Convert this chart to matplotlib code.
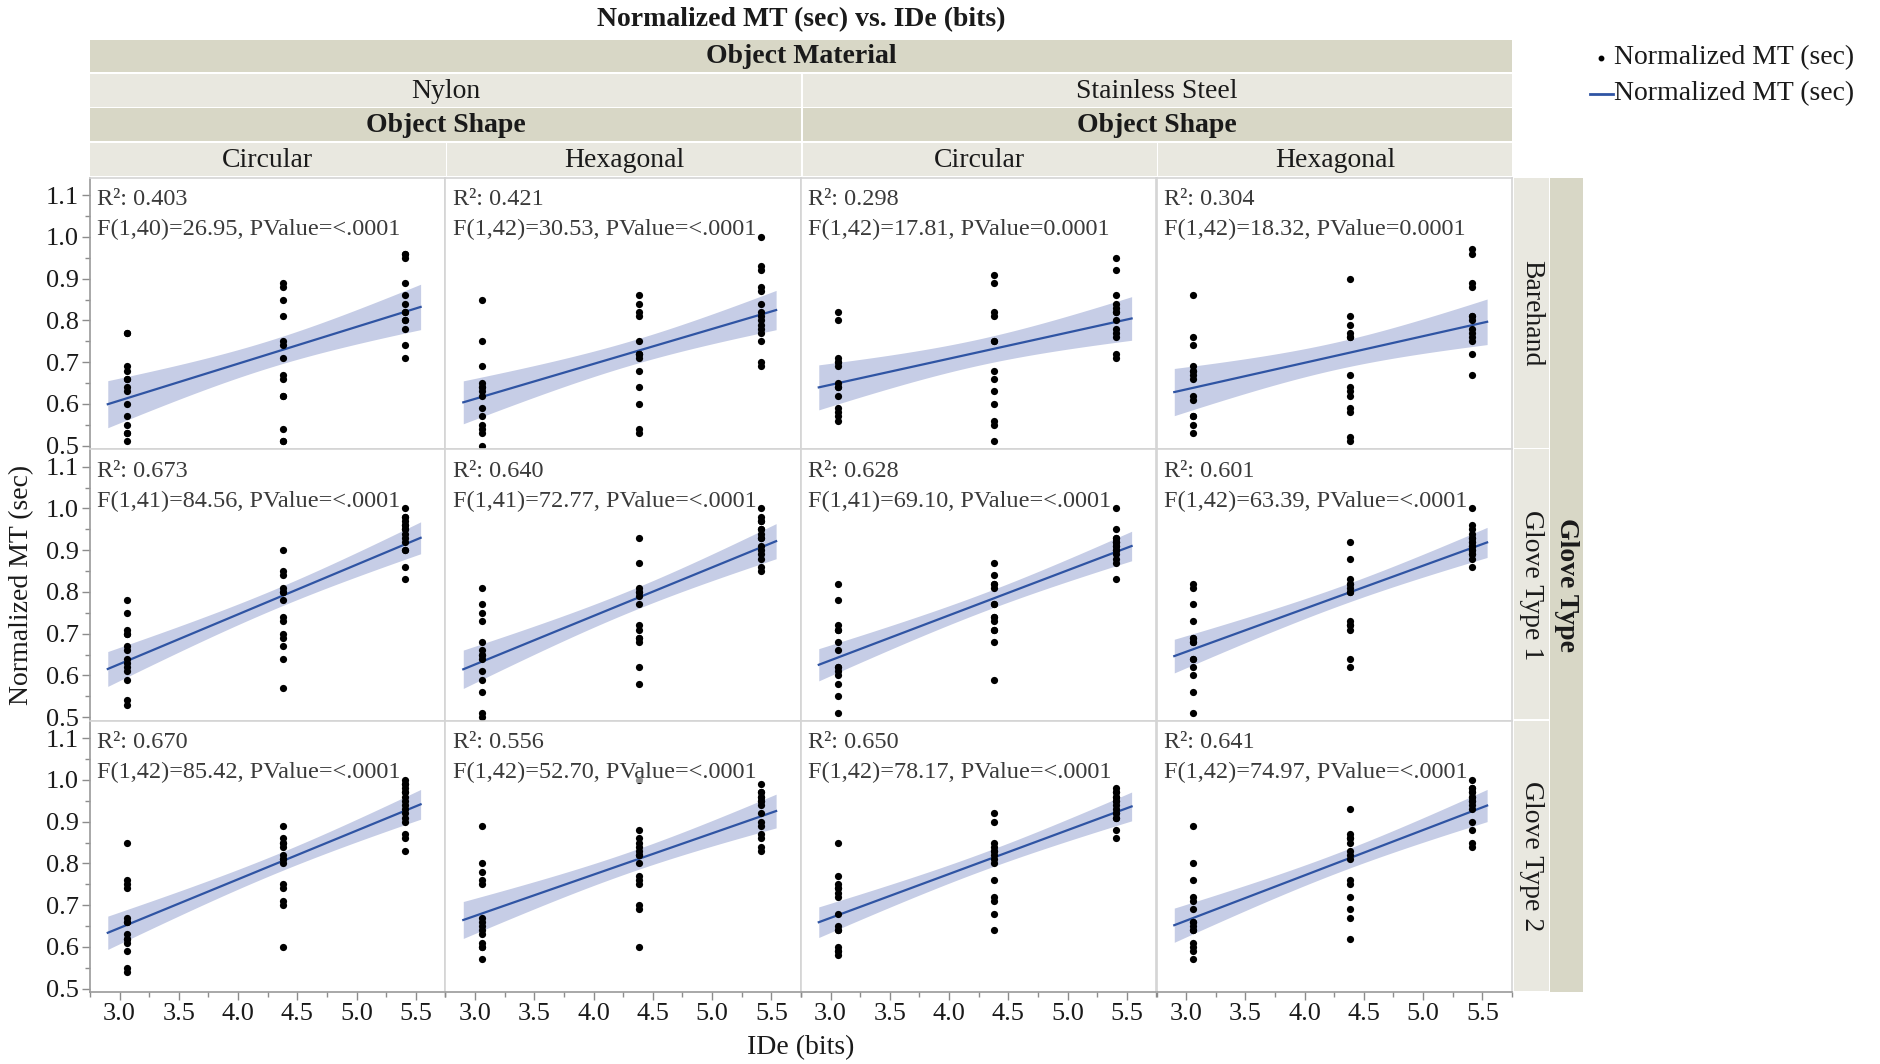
import numpy as np
import matplotlib
matplotlib.use('Agg')
import matplotlib.pyplot as plt
from matplotlib.patches import Rectangle
from matplotlib.ticker import MultipleLocator

plt.rcParams['font.family'] = ['Liberation Serif', 'DejaVu Serif']

W, H = 1881, 1064

# ---------------- data ----------------
ide_levels = [3.06, 4.38, 5.41]

glove_types = ['Barehand', 'Glove Type 1', 'Glove Type 2']
materials = ['Nylon', 'Stainless Steel']
shapes = ['Circular', 'Hexagonal']

# Normalized MT (sec) per IDe level, [low, mid, high]
bare_nylon_circ = [
    [0.77, 0.77, 0.69, 0.68, 0.66, 0.66, 0.64, 0.63, 0.60, 0.57, 0.55, 0.53, 0.53, 0.51],
    [0.89, 0.88, 0.85, 0.81, 0.75, 0.74, 0.71, 0.67, 0.66, 0.62, 0.62, 0.54, 0.51, 0.51],
    [0.96, 0.96, 0.95, 0.89, 0.86, 0.84, 0.82, 0.80, 0.78, 0.74, 0.71, 0.82, 0.80]]
bare_nylon_hex = [
    [0.85, 0.75, 0.69, 0.65, 0.64, 0.64, 0.63, 0.62, 0.59, 0.57, 0.55, 0.54, 0.53, 0.50],
    [0.86, 0.84, 0.82, 0.81, 0.75, 0.72, 0.72, 0.71, 0.68, 0.64, 0.60, 0.54, 0.53, 0.72],
    [1.00, 0.93, 0.92, 0.88, 0.87, 0.84, 0.82, 0.81, 0.79, 0.78, 0.77, 0.75, 0.70, 0.69, 0.80]]
bare_steel_circ = [
    [0.82, 0.80, 0.71, 0.70, 0.70, 0.69, 0.65, 0.64, 0.64, 0.62, 0.59, 0.58, 0.57, 0.56],
    [0.91, 0.89, 0.82, 0.81, 0.75, 0.75, 0.68, 0.66, 0.63, 0.60, 0.56, 0.55, 0.51],
    [0.95, 0.92, 0.86, 0.84, 0.83, 0.82, 0.80, 0.77, 0.76, 0.72, 0.71, 0.82, 0.78]]
bare_steel_hex = [
    [0.86, 0.76, 0.74, 0.69, 0.68, 0.67, 0.66, 0.62, 0.61, 0.57, 0.57, 0.55, 0.53, 0.68],
    [0.90, 0.81, 0.79, 0.77, 0.76, 0.67, 0.64, 0.63, 0.62, 0.59, 0.58, 0.52, 0.51, 0.76],
    [0.97, 0.96, 0.89, 0.88, 0.81, 0.78, 0.77, 0.76, 0.75, 0.72, 0.67, 0.81, 0.80]]
g1_nylon_circ = [
    [0.78, 0.75, 0.71, 0.70, 0.70, 0.67, 0.66, 0.64, 0.63, 0.62, 0.61, 0.59, 0.54, 0.53],
    [0.90, 0.85, 0.84, 0.81, 0.80, 0.78, 0.74, 0.73, 0.70, 0.69, 0.67, 0.64, 0.57, 0.80],
    [1.00, 0.98, 0.97, 0.96, 0.95, 0.93, 0.90, 0.86, 0.83, 0.94, 0.92, 0.96, 0.90, 0.98, 0.95]]
g1_nylon_hex = [
    [0.81, 0.77, 0.75, 0.73, 0.68, 0.66, 0.65, 0.64, 0.61, 0.59, 0.56, 0.51, 0.50, 0.65],
    [0.93, 0.87, 0.81, 0.80, 0.79, 0.77, 0.72, 0.71, 0.69, 0.68, 0.62, 0.58, 0.80, 0.69],
    [1.00, 0.98, 0.97, 0.95, 0.94, 0.93, 0.91, 0.89, 0.86, 0.85, 0.97, 0.95, 0.93, 0.90, 0.88]]
g1_steel_circ = [
    [0.82, 0.78, 0.72, 0.71, 0.71, 0.68, 0.66, 0.62, 0.61, 0.60, 0.58, 0.55, 0.51, 0.62],
    [0.87, 0.84, 0.82, 0.81, 0.77, 0.74, 0.73, 0.71, 0.71, 0.68, 0.59, 0.77, 0.82, 0.74],
    [1.00, 0.95, 0.93, 0.92, 0.91, 0.90, 0.87, 0.83, 0.92, 0.91, 0.90, 0.93, 0.89, 0.88, 0.92]]
g1_steel_hex = [
    [0.82, 0.81, 0.77, 0.73, 0.69, 0.68, 0.68, 0.64, 0.62, 0.60, 0.56, 0.51, 0.69, 0.64],
    [0.92, 0.88, 0.83, 0.82, 0.81, 0.80, 0.73, 0.72, 0.71, 0.64, 0.62, 0.82, 0.72, 0.80],
    [1.00, 0.96, 0.93, 0.91, 0.90, 0.89, 0.88, 0.86, 0.93, 0.92, 0.94, 0.90, 0.91, 0.89, 0.92, 0.95]]
g2_nylon_circ = [
    [0.85, 0.76, 0.75, 0.74, 0.67, 0.66, 0.63, 0.62, 0.61, 0.59, 0.55, 0.54, 0.62, 0.66],
    [0.89, 0.86, 0.85, 0.84, 0.81, 0.80, 0.75, 0.74, 0.71, 0.70, 0.60, 0.82, 0.81, 0.85],
    [1.00, 0.99, 0.97, 0.96, 0.93, 0.91, 0.90, 0.87, 0.86, 0.83, 0.98, 0.94, 0.92, 0.95, 0.99, 0.97]]
g2_nylon_hex = [
    [0.89, 0.80, 0.78, 0.76, 0.75, 0.67, 0.66, 0.64, 0.63, 0.61, 0.60, 0.57, 0.65, 0.60],
    [1.00, 0.88, 0.86, 0.85, 0.83, 0.82, 0.80, 0.77, 0.76, 0.75, 0.70, 0.69, 0.60, 0.82, 0.84],
    [0.99, 0.97, 0.96, 0.95, 0.92, 0.89, 0.87, 0.86, 0.83, 0.96, 0.94, 0.95, 0.90, 0.84, 0.97]]
g2_steel_circ = [
    [0.85, 0.77, 0.75, 0.74, 0.73, 0.72, 0.68, 0.65, 0.64, 0.60, 0.59, 0.58, 0.74, 0.64, 0.59],
    [0.92, 0.90, 0.85, 0.84, 0.83, 0.82, 0.81, 0.80, 0.76, 0.72, 0.71, 0.68, 0.64, 0.83],
    [0.98, 0.97, 0.96, 0.95, 0.93, 0.92, 0.91, 0.88, 0.86, 0.97, 0.94, 0.92, 0.96, 0.91, 0.95]]
g2_steel_hex = [
    [0.89, 0.80, 0.76, 0.72, 0.71, 0.69, 0.66, 0.65, 0.64, 0.61, 0.60, 0.59, 0.57, 0.66, 0.64],
    [0.93, 0.87, 0.86, 0.85, 0.83, 0.81, 0.76, 0.75, 0.72, 0.69, 0.67, 0.62, 0.86, 0.82],
    [1.00, 0.98, 0.97, 0.96, 0.95, 0.93, 0.90, 0.88, 0.85, 0.84, 0.97, 0.95, 0.96, 0.94, 0.98]]

panel_data = [
    [bare_nylon_circ, bare_nylon_hex, bare_steel_circ, bare_steel_hex],
    [g1_nylon_circ, g1_nylon_hex, g1_steel_circ, g1_steel_hex],
    [g2_nylon_circ, g2_nylon_hex, g2_steel_circ, g2_steel_hex]]

r2_labels = [['0.403', '0.421', '0.298', '0.304'],
             ['0.673', '0.640', '0.628', '0.601'],
             ['0.670', '0.556', '0.650', '0.641']]
f_labels = [['F(1,40)=26.95, PValue=<.0001', 'F(1,42)=30.53, PValue=<.0001',
             'F(1,42)=17.81, PValue=0.0001', 'F(1,42)=18.32, PValue=0.0001'],
            ['F(1,41)=84.56, PValue=<.0001', 'F(1,41)=72.77, PValue=<.0001',
             'F(1,41)=69.10, PValue=<.0001', 'F(1,42)=63.39, PValue=<.0001'],
            ['F(1,42)=85.42, PValue=<.0001', 'F(1,42)=52.70, PValue=<.0001',
             'F(1,42)=78.17, PValue=<.0001', 'F(1,42)=74.97, PValue=<.0001']]

x_ticks = [3.0, 3.5, 4.0, 4.5, 5.0, 5.5]
y_ticks = [0.5, 0.6, 0.7, 0.8, 0.9, 1.0, 1.1]

# ---------------- styles / layout ----------------
LINE_C = '#2f54a3'
BAND_C = '#c6cde6'
DARK = '#d8d7c6'
LIGHT = '#e9e8e0'
TXT = '#1a1a1a'
ANN = '#3a3a3a'

col_edges = [90, 445.5, 801, 1156.5, 1512]
row_edges = [177.5, 449, 720.5, 992]
XLIM = (2.75, 5.75)
YLIM = (0.492, 1.1425)
FIT_X = (2.9, 5.54)


def fig_rect(x0, y0, x1, y1):
    return [x0 / W, 1 - y1 / H, (x1 - x0) / W, (y1 - y0) / H]


def fit_band(x, y, xs, t=2.02):
    n = len(x)
    xb = x.mean()
    sxx = ((x - xb) ** 2).sum()
    b = ((x - xb) * (y - y.mean())).sum() / sxx
    a = y.mean() - b * xb
    s = np.sqrt(((y - (a + b * x)) ** 2).sum() / (n - 2))
    yh = a + b * xs
    hw = t * s * np.sqrt(1.0 / n + (xs - xb) ** 2 / sxx)
    return yh, hw


fig = plt.figure(figsize=(W / 100, H / 100), dpi=100)
fig.patch.set_facecolor('white')

# overlay for headers
ov = fig.add_axes([0, 0, 1, 1], zorder=0)
ov.set_xlim(0, W)
ov.set_ylim(H, 0)
ov.axis('off')

band_y = [39.5, 73.5, 108, 142.5, 177.5]
gap = 1.5


def hdr(x0, x1, y0, y1, color, text, bold=False):
    ov.add_patch(Rectangle((x0, y0), x1 - x0, y1 - y0, facecolor=color, edgecolor='none'))
    ov.text((x0 + x1) / 2, (y0 + y1) / 2 + 1, text, ha='center', va='center', fontsize=20,
            fontweight='bold' if bold else 'normal', color=TXT)


ov.text((col_edges[0] + col_edges[-1]) / 2, 20, 'Normalized MT (sec) vs. IDe (bits)',
        ha='center', va='center', fontsize=20, fontweight='bold', color=TXT)
hdr(col_edges[0], col_edges[4], band_y[0], band_y[1] - gap, DARK, 'Object Material', True)
for m in range(2):
    x0, x1 = col_edges[2 * m], col_edges[2 * m + 2]
    hdr(x0 + (gap if m else 0), x1, band_y[1], band_y[2] - gap, LIGHT, materials[m])
    hdr(x0 + (gap if m else 0), x1, band_y[2], band_y[3] - gap, DARK, 'Object Shape', True)
    for s in range(2):
        c = 2 * m + s
        hdr(col_edges[c] + (gap if c else 0), col_edges[c + 1], band_y[3], band_y[4] - gap,
            LIGHT, shapes[s])

# right strips
sx0, sx1, sx2 = 1513.5, 1549, 1583
for r in range(3):
    y0, y1 = row_edges[r], row_edges[r + 1]
    ov.add_patch(Rectangle((sx0, y0), sx1 - sx0, y1 - y0 - gap, facecolor=LIGHT, edgecolor='none'))
    ov.text((sx0 + sx1) / 2, (y0 + y1) / 2, glove_types[r], rotation=-90, ha='center',
            va='center', fontsize=20, color=TXT)
ov.add_patch(Rectangle((sx1 + gap / 2, row_edges[0]), sx2 - sx1 - gap / 2,
                       row_edges[-1] - row_edges[0], facecolor=DARK, edgecolor='none'))
ov.text((sx1 + sx2) / 2 + 1, (row_edges[0] + row_edges[-1]) / 2, 'Glove Type', rotation=-90,
        ha='center', va='center', fontsize=20, fontweight='bold', color=TXT)

# axis titles
ov.text(22, (row_edges[0] + row_edges[-1]) / 2, 'Normalized MT (sec)', rotation=90,
        ha='center', va='center', fontsize=20, color=TXT)
ov.text((col_edges[0] + col_edges[-1]) / 2, 1048, 'IDe (bits)', ha='center', va='center',
        fontsize=20, color=TXT)

# legend
ov.plot([1601], [58], 'o', ms=3.2, color='black')
ov.text(1614, 58, 'Normalized MT (sec)', ha='left', va='center', fontsize=20, color=TXT)
ov.plot([1590, 1613], [94, 94], color=LINE_C, lw=2)
ov.text(1614, 94, 'Normalized MT (sec)', ha='left', va='center', fontsize=20, color=TXT)

# panels
xs = np.linspace(FIT_X[0], FIT_X[1], 100)
for r in range(3):
    for c in range(4):
        ax = fig.add_axes(fig_rect(col_edges[c], row_edges[r], col_edges[c + 1], row_edges[r + 1]),
                          zorder=2)
        ax.set_xlim(*XLIM)
        ax.set_ylim(*YLIM)
        groups = panel_data[r][c]
        xv = np.concatenate([[ide_levels[g]] * len(groups[g]) for g in range(3)])
        yv = np.concatenate([groups[g] for g in range(3)])
        yh, hw = fit_band(xv, yv, xs)
        ax.fill_between(xs, yh - hw, yh + hw, color=BAND_C, lw=0, zorder=1)
        ax.plot(xs, yh, color=LINE_C, lw=1.6, zorder=2)
        ax.scatter(xv, yv, s=27, color='black', lw=0, zorder=3)
        bb = dict(facecolor='white', alpha=0.6, edgecolor='none', pad=0)
        ax.text(0.02, 1 - 22 / 271.5, 'R²: ' + r2_labels[r][c], transform=ax.transAxes,
                ha='left', va='center', fontsize=17.5, color=ANN, zorder=4, bbox=bb)
        ax.text(0.02, 1 - 52 / 271.5, f_labels[r][c], transform=ax.transAxes,
                ha='left', va='center', fontsize=17.5, color=ANN, zorder=4, bbox=bb)
        for sp in ax.spines.values():
            sp.set_color('#d4d4d4')
            sp.set_linewidth(1.2)
        ax.xaxis.set_major_locator(plt.FixedLocator(x_ticks))
        ax.xaxis.set_minor_locator(MultipleLocator(0.25))
        ax.yaxis.set_major_locator(plt.FixedLocator(y_ticks))
        ax.yaxis.set_minor_locator(MultipleLocator(0.05))
        ax.tick_params(which='major', length=6, width=1, color='#8c8c8c', labelsize=19,
                       labelcolor=TXT, pad=2)
        ax.tick_params(which='minor', length=3.5, width=1, color='#8c8c8c')
        ax.set_yticklabels(['%.1f' % v for v in y_ticks])
        ax.set_xticklabels(['%.1f' % v for v in x_ticks])
        if c == 0:
            ax.spines['left'].set_color('#9a9a9a')
        else:
            ax.tick_params(axis='y', which='both', left=False, labelleft=False)
        if r == 2:
            ax.spines['bottom'].set_color('#9a9a9a')
        else:
            ax.tick_params(axis='x', which='both', bottom=False, labelbottom=False)

fig.savefig('out.png', dpi=100, facecolor='white')
